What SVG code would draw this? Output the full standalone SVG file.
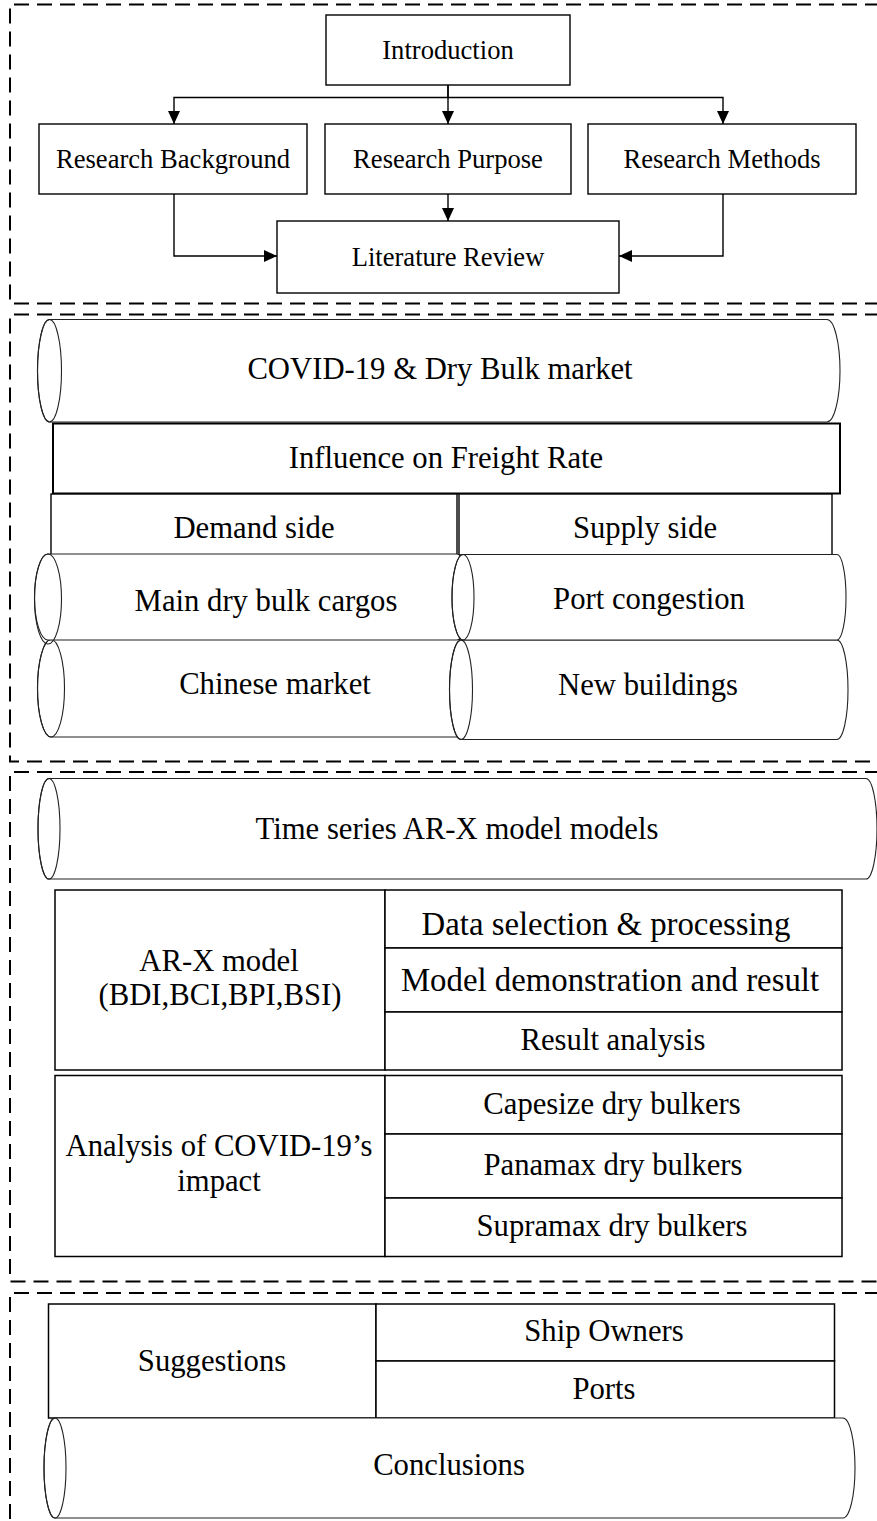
<svg xmlns="http://www.w3.org/2000/svg" width="877" height="1521" viewBox="0 0 877 1521">
<style>
.frame{fill:none;stroke:#000;stroke-width:2;stroke-dasharray:15 8}
.box{fill:#fff;stroke:#000;stroke-width:1.4}
.tbl{fill:#fff;stroke:#000;stroke-width:1.5}
.cyl{fill:#fff;stroke:#222;stroke-width:1.1}
.cap{fill:none;stroke:#222;stroke-width:1.1}
.conn{fill:none;stroke:#000;stroke-width:1.4;marker-end:url(#ah)}
text{font-family:"Liberation Serif","Times New Roman",serif;fill:#000;text-anchor:middle}
.t1{font-size:26.6px}
.t2{font-size:30.7px}
.t3{font-size:32.8px}
</style>
<defs>
<marker id="ah" markerUnits="userSpaceOnUse" markerWidth="13" markerHeight="12" refX="13" refY="6" orient="auto">
<path d="M0,0 L13,6 L0,12 Z" fill="#000"/>
</marker>
</defs>

<g id="frames">
<path class="frame" d="M880,4.5 H10 V303.5 H880"/>
<path class="frame" d="M880,314.5 H10 V761.5 H880"/>
<path class="frame" d="M880,772 H10 V1281.5 H880"/>
<path class="frame" d="M880,1293 H10 V1525"/>
</g>

<g id="connectors">
<path class="conn" d="M448,85 V97.5 H174 V124"/>
<path class="conn" d="M448,97.5 H723 V124"/>
<path class="conn" d="M448,85 V124"/>
<path class="conn" d="M448,194 V221"/>
<path class="conn" d="M174,194 V256 H277"/>
<path class="conn" d="M723,194 V256 H619"/>
</g>

<g id="introduction">
<rect class="box" x="326" y="15" width="244" height="70"/>
<text class="t1" x="448" y="59">Introduction</text>
</g>
<g id="research-background">
<rect class="box" x="39" y="124" width="268" height="70"/>
<text class="t1" x="173" y="168">Research Background</text>
</g>
<g id="research-purpose">
<rect class="box" x="325" y="124" width="246" height="70"/>
<text class="t1" x="448" y="168">Research Purpose</text>
</g>
<g id="research-methods">
<rect class="box" x="588" y="124" width="268" height="70"/>
<text class="t1" x="722" y="168">Research Methods</text>
</g>
<g id="literature-review">
<rect class="box" x="277" y="221" width="342" height="72"/>
<text class="t1" x="448" y="266">Literature Review</text>
</g>

<g id="covid-dry-bulk">
<path class="cyl" d="M49.5,319.5 H827 A13,51.25 0 0 1 827,422 H49.5 A12,51.25 0 0 1 49.5,319.5 Z"/>
<ellipse class="cap" cx="49.5" cy="370.75" rx="12" ry="51.25"/>
<text class="t2" x="440" y="379">COVID-19 &amp; Dry Bulk market</text>
</g>
<g id="influence">
<rect class="box" x="53" y="423.5" width="787" height="70" style="stroke-width:2"/>
<text class="t2" x="446" y="468">Influence on Freight Rate</text>
</g>
<g id="demand-side">
<rect class="box" x="51" y="494" width="406" height="61"/>
<text class="t2" x="254" y="538">Demand side</text>
</g>
<g id="supply-side">
<rect class="box" x="459" y="494" width="373" height="61"/>
<text class="t2" x="645" y="538">Supply side</text>
</g>

<g id="chinese-market">
<path class="cyl" d="M51,639.5 H460 A10,48.75 0 0 1 460,737 H51 A13.5,48.75 0 0 1 51,639.5 Z"/>
<ellipse class="cap" cx="51" cy="688.25" rx="13.5" ry="48.75"/>
<text class="t2" x="275" y="694">Chinese market</text>
</g>
<g id="new-buildings">
<path class="cyl" d="M461,640 H837 A11,49.75 0 0 1 837,739.5 H461 A11.5,49.75 0 0 1 461,640 Z"/>
<ellipse class="cap" cx="461" cy="689.75" rx="11.5" ry="49.75"/>
<text class="t2" x="648" y="695">New buildings</text>
</g>
<g id="main-dry-bulk-cargos">
<path class="cyl" d="M48,554 H457 A10,43 0 0 1 457,640 H48 A13.5,43 0 0 1 48,554 Z"/>
<ellipse class="cap" cx="48" cy="599" rx="13.5" ry="45"/>
<text class="t2" x="266" y="610.5">Main dry bulk cargos</text>
</g>
<g id="port-congestion">
<path class="cyl" d="M463,554.5 H837 A9,42.75 0 0 1 837,640 H463 A11,42.75 0 0 1 463,554.5 Z"/>
<ellipse class="cap" cx="463" cy="597.25" rx="11" ry="42.75"/>
<text class="t2" x="649" y="608.5">Port congestion</text>
</g>

<g id="time-series">
<path class="cyl" d="M49,778.5 H866 A11,50.25 0 0 1 866,879 H49 A11,50.25 0 0 1 49,778.5 Z"/>
<ellipse class="cap" cx="49" cy="828.75" rx="11" ry="50.25"/>
<text class="t2" x="457" y="839">Time series AR-X model models</text>
</g>

<g id="arx-model">
<rect class="tbl" x="55" y="890" width="330" height="180"/>
<text class="t2" x="219" y="971">AR-X model</text>
<text class="t2" x="220" y="1005">(BDI,BCI,BPI,BSI)</text>
</g>
<g id="data-selection">
<rect class="tbl" x="385" y="890" width="457" height="58"/>
<text class="t3" x="606" y="935">Data selection &amp; processing</text>
</g>
<g id="model-demonstration">
<rect class="tbl" x="385" y="948" width="457" height="64"/>
<text class="t3" x="610" y="991">Model demonstration and result</text>
</g>
<g id="result-analysis">
<rect class="tbl" x="385" y="1012" width="457" height="58"/>
<text class="t2" x="613" y="1050">Result analysis</text>
</g>

<g id="covid-impact">
<rect class="tbl" x="55" y="1075.5" width="330" height="181"/>
<text class="t2" x="219" y="1156">Analysis of COVID-19’s</text>
<text class="t2" x="219" y="1191">impact</text>
</g>
<g id="capesize">
<rect class="tbl" x="385" y="1075.5" width="457" height="58.5"/>
<text class="t2" x="612" y="1114">Capesize dry bulkers</text>
</g>
<g id="panamax">
<rect class="tbl" x="385" y="1134" width="457" height="64"/>
<text class="t2" x="613" y="1175">Panamax dry bulkers</text>
</g>
<g id="supramax">
<rect class="tbl" x="385" y="1198" width="457" height="58.5"/>
<text class="t2" x="612" y="1236">Supramax dry bulkers</text>
</g>

<g id="suggestions">
<rect class="tbl" x="48.5" y="1304" width="327.5" height="114"/>
<text class="t2" x="212" y="1371">Suggestions</text>
</g>
<g id="ship-owners">
<rect class="tbl" x="376" y="1304" width="458.5" height="57"/>
<text class="t2" x="604" y="1341">Ship Owners</text>
</g>
<g id="ports">
<rect class="tbl" x="376" y="1361" width="458.5" height="57"/>
<text class="t2" x="604" y="1399">Ports</text>
</g>

<g id="conclusions">
<path class="cyl" d="M55,1418 H843 A12,50 0 0 1 843,1518 H55 A11,50 0 0 1 55,1418 Z"/>
<ellipse class="cap" cx="55" cy="1468" rx="11" ry="50"/>
<text class="t2" x="449" y="1475">Conclusions</text>
</g>
</svg>
